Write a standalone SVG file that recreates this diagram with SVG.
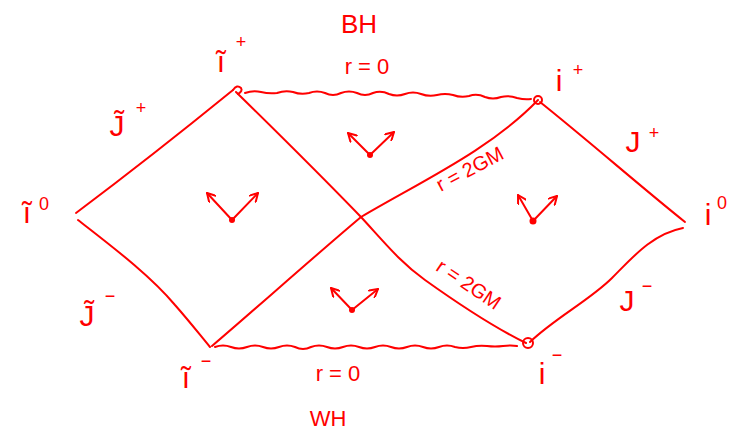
<svg xmlns="http://www.w3.org/2000/svg" width="729" height="432" viewBox="0 0 729 432">
  <style>
    .ln { fill: none; stroke: #ff0000; stroke-width: 2; stroke-linecap: round; stroke-linejoin: round; }
    .cone { fill: none; stroke: #ff0000; stroke-width: 2; stroke-linecap: round; }
    .dot { fill: #ff0000; }
    .t { font-family: "Liberation Sans", "DejaVu Sans", sans-serif; fill: #ff0000; }
    .lab { font-size: 30px; }
    .sup { font-size: 18px; }
    .txt { font-size: 22px; }
  </style>
  <defs>
    <marker id="ah" viewBox="0 0 10 10" refX="9" refY="5" markerWidth="10" markerHeight="10" markerUnits="userSpaceOnUse" orient="auto">
      <path d="M1,0.5 L9,5 L1,9.5" fill="none" stroke="#ff0000" stroke-width="2" stroke-linecap="round" stroke-linejoin="round"/>
    </marker>
  </defs>
  <rect width="729" height="432" fill="#ffffff"/>

  <g id="connectors">
    <path class="ln" d="M76,213 C120,180 190,125 233,90"/>
    <path class="ln" d="M78,220 C110,245 150,275 175,305 C190,322 200,335 210,347"/>
    <path class="ln" d="M236,92 C280,135 330,185 361,217 C385,243 400,262 425,280 C460,305 495,328 526,343"/>
    <path class="ln" d="M212,346 C260,305 310,260 361,217 C420,182 490,150 538,100"/>
    <path class="ln" d="M540,102 C590,142 640,186 685,222"/>
    <path class="ln" d="M683,228 C652,234 632,258 612,278 C590,300 555,318 530,342"/>
    <path class="ln" d="M245,93 q8,-3 16,-1 q8,2 16,1 q8,-3 16,-1 q8,3 16,1 q8,-3 16,0 q8,4 16,0 q8,-3 16,0 q8,4 16,0 q8,-3 16,1 q8,3 16,0 q8,-3 16,0 q8,3 16,1 q8,-2 16,0 q8,3 16,1 q8,-3 16,1 q8,3 16,0 q8,-2 16,1 q8,2 14,1"/>
    <path class="ln" d="M215,347 q8,-3 16,0 q8,3 16,0 q8,-3 16,0 q8,3 16,0 q8,-3 16,0 q8,4 16,0 q8,-3 16,0 q8,3 16,0 q8,-3 16,0 q8,3 16,0 q8,-3 16,0 q8,3 16,0 q8,-3 16,0 q8,3 16,0 q8,-3 16,0 q8,2 16,0 q8,-2 16,-1 q8,1 16,0 q8,-1 14,0"/>
    <path class="ln" d="M233,90 q4,-6 8,-2 q2,3 -3,6"/>
    <circle class="ln" cx="538" cy="100" r="4"/>
    <circle class="ln" cx="528" cy="343" r="5"/>
  </g>

  <g id="cone-left">
    <circle class="dot" cx="232" cy="220" r="3"/>
    <line class="cone" x1="232" y1="220" x2="207" y2="193" marker-end="url(#ah)"/>
    <line class="cone" x1="232" y1="220" x2="258" y2="193" marker-end="url(#ah)"/>
  </g>
  <g id="cone-top">
    <circle class="dot" cx="370" cy="155" r="3"/>
    <line class="cone" x1="370" y1="155" x2="348" y2="133" marker-end="url(#ah)"/>
    <line class="cone" x1="370" y1="155" x2="394" y2="132" marker-end="url(#ah)"/>
  </g>
  <g id="cone-right">
    <circle class="dot" cx="533" cy="221" r="3.5"/>
    <line class="cone" x1="533" y1="221" x2="518" y2="195" marker-end="url(#ah)"/>
    <line class="cone" x1="533" y1="221" x2="557" y2="196" marker-end="url(#ah)"/>
  </g>
  <g id="cone-bottom">
    <circle class="dot" cx="352" cy="310" r="3"/>
    <line class="cone" x1="352" y1="310" x2="331" y2="288" marker-end="url(#ah)"/>
    <line class="cone" x1="352" y1="310" x2="378" y2="289" marker-end="url(#ah)"/>
  </g>

  <g id="label-BH"><text class="t" x="359" y="33" font-size="26" text-anchor="middle">BH</text></g>
  <g id="label-r0-top"><text class="t txt" x="367" y="74" text-anchor="middle">r = 0</text></g>
  <g id="label-WH"><text class="t" x="328" y="426" font-size="22" text-anchor="middle">WH</text></g>
  <g id="label-r0-bottom"><text class="t txt" x="338" y="381" text-anchor="middle">r = 0</text></g>

  <g id="node-ti-plus"><text class="t lab" x="221" y="72" text-anchor="middle">ĩ</text><text class="t sup" x="241" y="48" text-anchor="middle">+</text></g>
  <g id="node-tscri-plus"><text class="t lab" x="117" y="136" text-anchor="middle">J̃</text><text class="t sup" x="141" y="114" text-anchor="middle">+</text></g>
  <g id="node-ti-0"><text class="t lab" x="27" y="223" text-anchor="middle">ĩ</text><text class="t sup" x="44" y="210" text-anchor="middle">0</text></g>
  <g id="node-tscri-minus"><text class="t lab" x="87" y="326" text-anchor="middle">J̃</text><text class="t sup" x="110" y="302" text-anchor="middle">−</text></g>
  <g id="node-ti-minus"><text class="t lab" x="186" y="388" text-anchor="middle">ĩ</text><text class="t sup" x="206" y="367" text-anchor="middle">−</text></g>

  <g id="node-i-plus"><text class="t lab" x="559" y="91" text-anchor="middle">i</text><text class="t sup" x="578" y="76" text-anchor="middle">+</text></g>
  <g id="node-scri-plus"><text class="t lab" x="633" y="152" text-anchor="middle">J</text><text class="t sup" x="654" y="139" text-anchor="middle">+</text></g>
  <g id="node-i-0"><text class="t lab" x="708" y="225" text-anchor="middle">i</text><text class="t sup" x="722" y="209" text-anchor="middle">0</text></g>
  <g id="node-scri-minus"><text class="t lab" x="627" y="311" text-anchor="middle">J</text><text class="t sup" x="647" y="292" text-anchor="middle">−</text></g>
  <g id="node-i-minus"><text class="t lab" x="542" y="384" text-anchor="middle">i</text><text class="t sup" x="557" y="361" text-anchor="middle">−</text></g>

  <g id="label-horizon-upper"><text class="t" font-size="20" text-anchor="middle" transform="translate(473,175) rotate(-28)">r = 2GM</text></g>
  <g id="label-horizon-lower"><text class="t" font-size="20" text-anchor="middle" transform="translate(465,290) rotate(34)">r = 2GM</text></g>
</svg>
